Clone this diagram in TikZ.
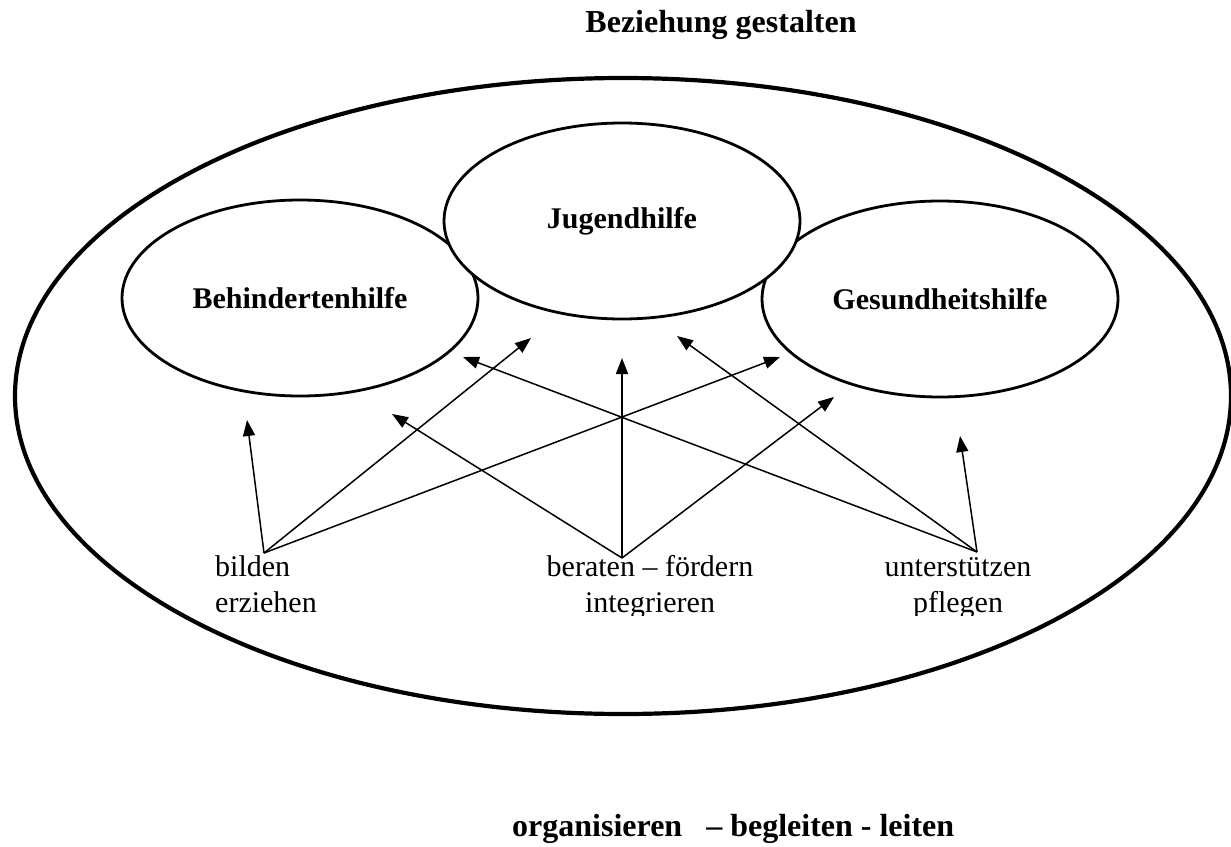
\documentclass[tikz,border=0pt]{standalone}
\usepackage{fontspec}
\setmainfont{Liberation Serif}
\usetikzlibrary{shapes.geometric}
\usetikzlibrary{arrows.meta}

\begin{document}
\begin{tikzpicture}[x=1pt, y=-1pt,
    bereich/.style={draw, fill=white, ellipse, line width=2.8pt, inner sep=0pt,
      minimum width=356pt, minimum height=196pt,
      font=\fontsize{30}{36}\selectfont\bfseries},
    taetigkeit/.style={inner sep=0pt, font=\fontsize{30}{36}\selectfont},
    titel/.style={inner sep=0pt, font=\fontsize{32}{38}\selectfont\bfseries},
    pfeil/.style={-{Triangle[length=16pt, width=12pt]}, line width=1.5pt}]
  \useasboundingbox (0,0) rectangle (1231,846);

  \node[titel, anchor=base] (oben) at (721,32) {Beziehung gestalten};
  \node[draw, ellipse, line width=4.2pt, minimum width=1216pt, minimum height=636pt] (feld) at (623,396) {};

  \node[bereich] (behindert) at (300,298) {Behindertenhilfe};
  \node[bereich] (gesund) at (940,299) {Gesundheitshilfe};
  \node[bereich] (jugend) at (622,221) {Jugendhilfe};

  % Textfelder unten abgeschnitten
  \begin{scope}
    \clip (0,0) rectangle (1231,615);
    \node[taetigkeit, anchor=base west, align=left] (bilden) at (215,612) {bilden\\erziehen};
    \node[taetigkeit, anchor=base, align=center] (beraten) at (650,612) {beraten -- fördern\\integrieren};
    \node[taetigkeit, anchor=base, align=center] (pflegen) at (958,612) {unterstützen\\pflegen};
  \end{scope}

  \node[titel, anchor=base west] (unten) at (512,836) {organisieren\ \ \ -- begleiten - leiten};

  % Ausgangspunkte der Pfeile
  \coordinate (qa) at (264,553);
  \coordinate (qb) at (622,558);
  \coordinate (qc) at (977,552);
  % Pfeilspitzen
  \coordinate (za) at (247,420);
  \coordinate (zb) at (531,338);
  \coordinate (zc) at (780,357);
  \coordinate (zd) at (392,414);
  \coordinate (ze) at (622,358);
  \coordinate (zf) at (834,397);
  \coordinate (zg) at (463,357);
  \coordinate (zh) at (677,336);
  \coordinate (zi) at (960,436);

  \foreach \z in {za,zb,zc} \draw[pfeil] (qa) -- (\z);
  \foreach \z in {zd,ze,zf} \draw[pfeil] (qb) -- (\z);
  \foreach \z in {zg,zh,zi} \draw[pfeil] (qc) -- (\z);
\end{tikzpicture}
\end{document}
